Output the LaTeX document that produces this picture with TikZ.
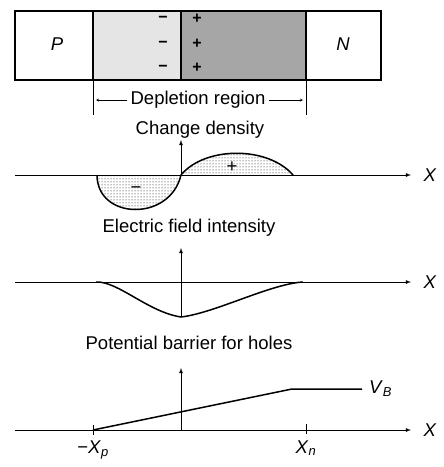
\documentclass[tikz,border=0pt]{standalone}
\usepackage{fontspec}
\setmainfont{Liberation Sans}
\usetikzlibrary{patterns}
\begin{document}
\begin{tikzpicture}[x=1pt,y=1pt]
\useasboundingbox (0,0) rectangle (444,-467);
%vars
\tikzstyle{caption}=[font=\fontsize{18.5}{22}\selectfont,inner sep=1pt]
\tikzstyle{sign}=[font=\fontsize{16}{18}\selectfont\bfseries,inner sep=0pt]
\tikzstyle{axis}=[->,>=latex,line width=0.8pt]
\tikzstyle{curve}=[line width=1.5pt]
\tikzstyle{wall}=[line width=1.2pt]

%%%%%%%%%%%%%%%%%%%%%%%%%%%%%%%%%%%%%%%%%%%%%%%%%%%%%%%%%%%%%%
%JUNCTION
\fill[black!10] (93,-11) rectangle (181,-80);
\fill[black!35] (181,-11) rectangle (306,-80);
\draw[wall] (15,-11) rectangle (381,-80);
\foreach \x in {93,181,306} \draw[wall] (\x,-11) -- (\x,-80);
\node[caption] (pside) at (57,-44) {\textit{P}};
\node[caption] (nside) at (343,-44) {\textit{N}};
%charges
\foreach \y in {19,44,68} {
  \node[sign] (minus\y) at (163,-\y) {−};
  \node[sign] (plus\y) at (197,-\y) {+};
}

%depletion
\coordinate (depTopL) at (93,-80);
\coordinate (depBotL) at (93,-115);
\coordinate (depTopR) at (306,-80);
\coordinate (depBotR) at (306,-115);
\draw (depTopL) -- (depBotL);
\draw (depTopR) -- (depBotR);
\coordinate (depL) at (96,-100);
\coordinate (depR) at (303,-100);
\node[caption,inner sep=3pt] (depletion) at (198,-100) {Depletion region};
\draw[->,>=stealth] (depletion) -- (depL);
\draw[->,>=stealth] (depletion) -- (depR);

%%%%%%%%%%%%%%%%%%%%%%%%%%%%%%%%%%%%%%%%%%%%%%%%%%%%%%%%%%%%%%
%CHARGE DENSITY
\coordinate (xl1) at (15,-175);
\coordinate (xr1) at (411,-175);
\coordinate (o1) at (181,-175);
\coordinate (yt1) at (181,-140);
\fill[pattern=dots] (97,-175) .. controls (97,-220) and (170,-222) .. (o1) -- cycle;
\fill[pattern=dots] (o1) .. controls (205,-146) and (268,-146) .. (293,-175) -- cycle;
\draw[axis] (xl1) -- (xr1);
\draw[axis] (o1) -- (yt1);
\draw[curve] (97,-175) .. controls (97,-220) and (170,-222) .. (o1);
\draw[curve] (o1) .. controls (205,-146) and (268,-146) .. (293,-175);
\node[caption] (neg) at (136,-190) {−};
\node[caption] (pos) at (232,-167) {+};
\node[caption] (title1) at (200,-130) {Change density};
\node[caption] (xlab1) at (430,-175) {\textit{X}};

%%%%%%%%%%%%%%%%%%%%%%%%%%%%%%%%%%%%%%%%%%%%%%%%%%%%%%%%%%%%%%
%ELECTRIC FIELD
\coordinate (xl2) at (15,-282);
\coordinate (xr2) at (411,-282);
\coordinate (ob2) at (181,-317);
\coordinate (yt2) at (181,-248);
\draw[axis] (xl2) -- (xr2);
\draw[axis] (ob2) -- (yt2);
\draw[curve] (96,-282) .. controls (118,-281) and (148,-312) .. (ob2)
  .. controls (215,-313) and (270,-284) .. (303,-282);
\node[caption] (title2) at (189,-228) {Electric field intensity};
\node[caption] (xlab2) at (430,-282) {\textit{X}};

%%%%%%%%%%%%%%%%%%%%%%%%%%%%%%%%%%%%%%%%%%%%%%%%%%%%%%%%%%%%%%
%POTENTIAL
\coordinate (xl3) at (15,-430);
\coordinate (xr3) at (411,-430);
\coordinate (o3) at (181,-430);
\coordinate (yt3) at (181,-368);
\coordinate (xp) at (93,-430);
\coordinate (xn) at (306,-430);
\coordinate (knee) at (292,-389);
\coordinate (vend) at (362,-389);
\draw[axis] (xl3) -- (xr3);
\draw[axis] (o3) -- (yt3);
\draw (93,-425) -- (93,-435);
\draw (306,-424) -- (306,-434);
\draw[curve] (xp) -- (knee) -- (vend);
\node[caption,anchor=west] (vb) at (368,-389) {\textit{V}\textsubscript{\textit{B}}};
\node[caption] (title3) at (189,-343) {Potential barrier for holes};
\node[caption] (xlab3) at (430,-430) {\textit{X}};
\node[caption] (xplab) at (93,-450) {−\textit{X}\textsubscript{\textit{p}}};
\node[caption] (xnlab) at (306,-448) {\textit{X}\textsubscript{\textit{n}}};
\end{tikzpicture}
\end{document}
